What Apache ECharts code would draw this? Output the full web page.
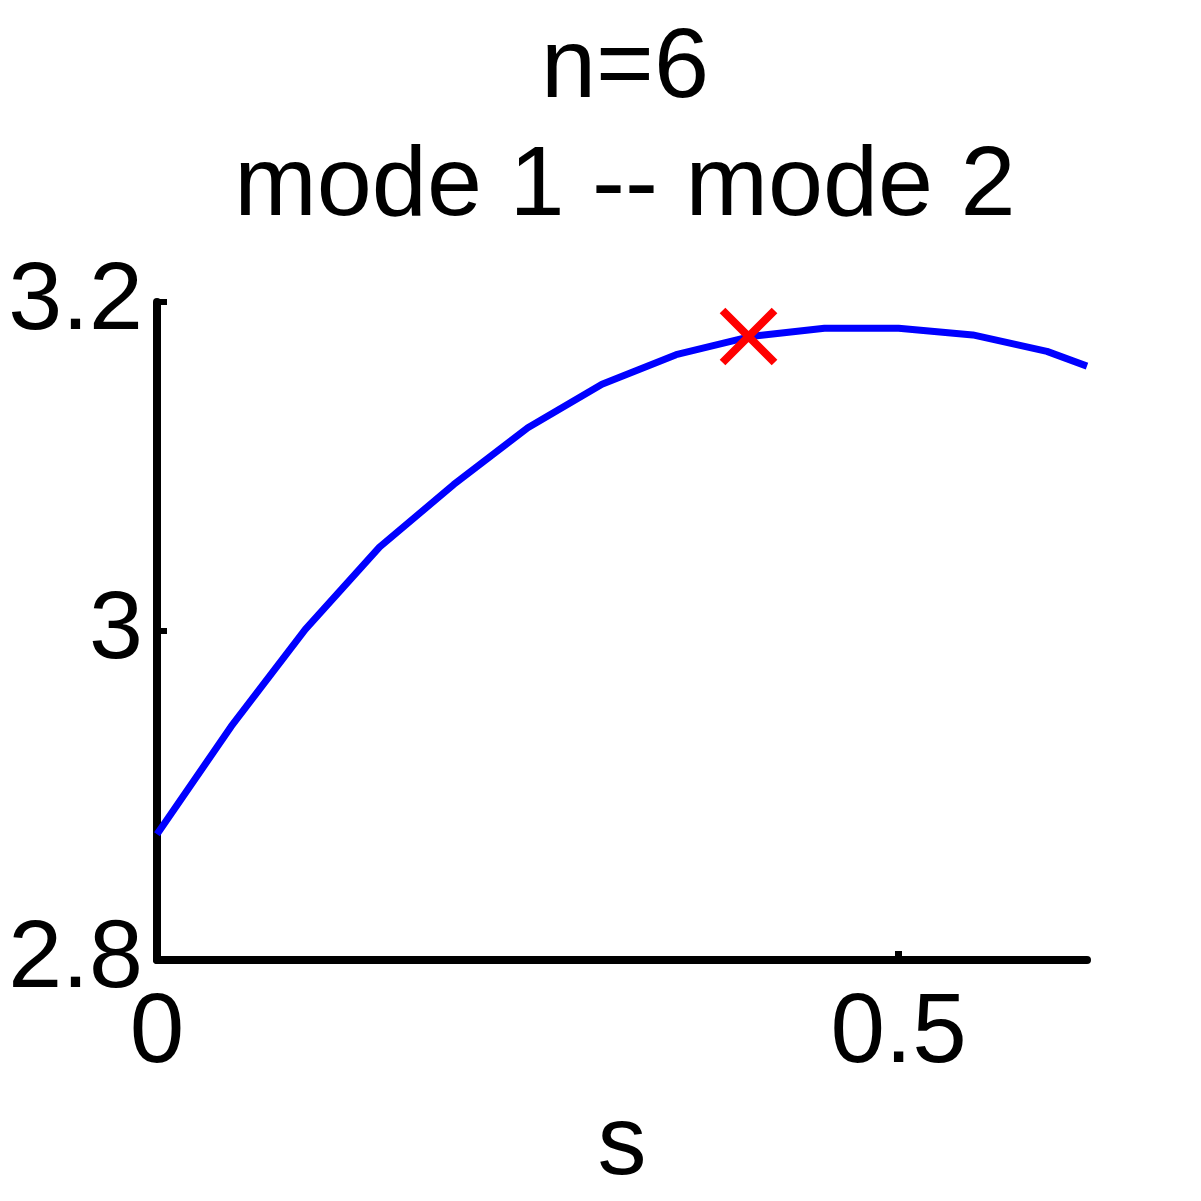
<!DOCTYPE html>
<html>
<head>
<meta charset="utf-8">
<script src="https://cdn.jsdelivr.net/npm/echarts@6/dist/echarts.min.js"></script>
<style>html,body{margin:0;padding:0;background:#fff;}#c{width:1201px;height:1201px;}</style>
</head>
<body>
<div id="c"></div>
<script>
const sValues = [0, 0.05, 0.1, 0.15, 0.2, 0.25, 0.3, 0.35, 0.4, 0.45, 0.5, 0.55, 0.6, 0.627];
const curveValues = [2.8765, 2.942, 3.001, 3.051, 3.089, 3.1235, 3.150, 3.168, 3.179, 3.184, 3.184, 3.180, 3.170, 3.161];
const markerPoint = [0.3988, 3.179];
const xTicks = [0, 0.5];
const yTicks = [2.8, 3.0, 3.2];
const titleLines = ['n=6', 'mode 1 -- mode 2'];
const xLabel = 's';

const FONT = 'Liberation Sans, Arial, Helvetica, sans-serif';
const chart = echarts.init(document.getElementById('c'), null, {renderer: 'canvas'});
chart.setOption({
  backgroundColor: '#ffffff',
  animation: false,
  title: [
    {text: titleLines[0], left: 620, top: 15, textAlign: 'center',
     textStyle: {fontFamily: FONT, fontSize: 99, fontWeight: 'normal', color: '#000', lineHeight: 99}},
    {text: titleLines[1], left: 620, top: 133, textAlign: 'center',
     textStyle: {fontFamily: FONT, fontSize: 99, fontWeight: 'normal', color: '#000', lineHeight: 99}}
  ],
  grid: {left: 157, right: 114, top: 302, bottom: 240, containLabel: false},
  xAxis: {
    type: 'value', min: 0, max: 0.627,
    name: xLabel, nameLocation: 'middle', nameGap: 138,
    nameTextStyle: {fontFamily: FONT, fontSize: 98, color: '#000', lineHeight: 98},
    axisLine: {show: true, onZero: false, lineStyle: {color: '#000', width: 8}},
    axisTick: {show: true, inside: true, length: 9, customValues: xTicks, lineStyle: {color: '#000', width: 7}},
    axisLabel: {show: true, customValues: xTicks, margin: 26, fontFamily: FONT, fontSize: 98, color: '#000', lineHeight: 98,
      formatter: v => String(v)},
    splitLine: {show: false}
  },
  yAxis: {
    type: 'value', min: 2.8, max: 3.2, interval: 0.2,
    axisLine: {show: true, onZero: false, lineStyle: {color: '#000', width: 8}},
    axisTick: {show: true, inside: true, length: 10, customValues: yTicks, lineStyle: {color: '#000', width: 6}},
    axisLabel: {show: true, customValues: yTicks, margin: 14, fontFamily: FONT, fontSize: 97, color: '#000', lineHeight: 97,
      formatter: v => String(Math.round(v * 10) / 10)},
    splitLine: {show: false}
  },
  series: [
    {
      type: 'line', data: sValues.map((s, i) => [s, curveValues[i]]),
      showSymbol: false, symbol: 'none', smooth: false,
      lineStyle: {color: '#0000ff', width: 7}, z: 2
    },
    {
      type: 'scatter', data: [markerPoint],
      symbol: 'path://M0,0L10,10M10,0L0,10', symbolSize: 52,
      itemStyle: {color: 'none', borderColor: '#ff0000', borderWidth: 8, opacity: 1},
      z: 3
    }
  ]
});
</script>
</body>
</html>
